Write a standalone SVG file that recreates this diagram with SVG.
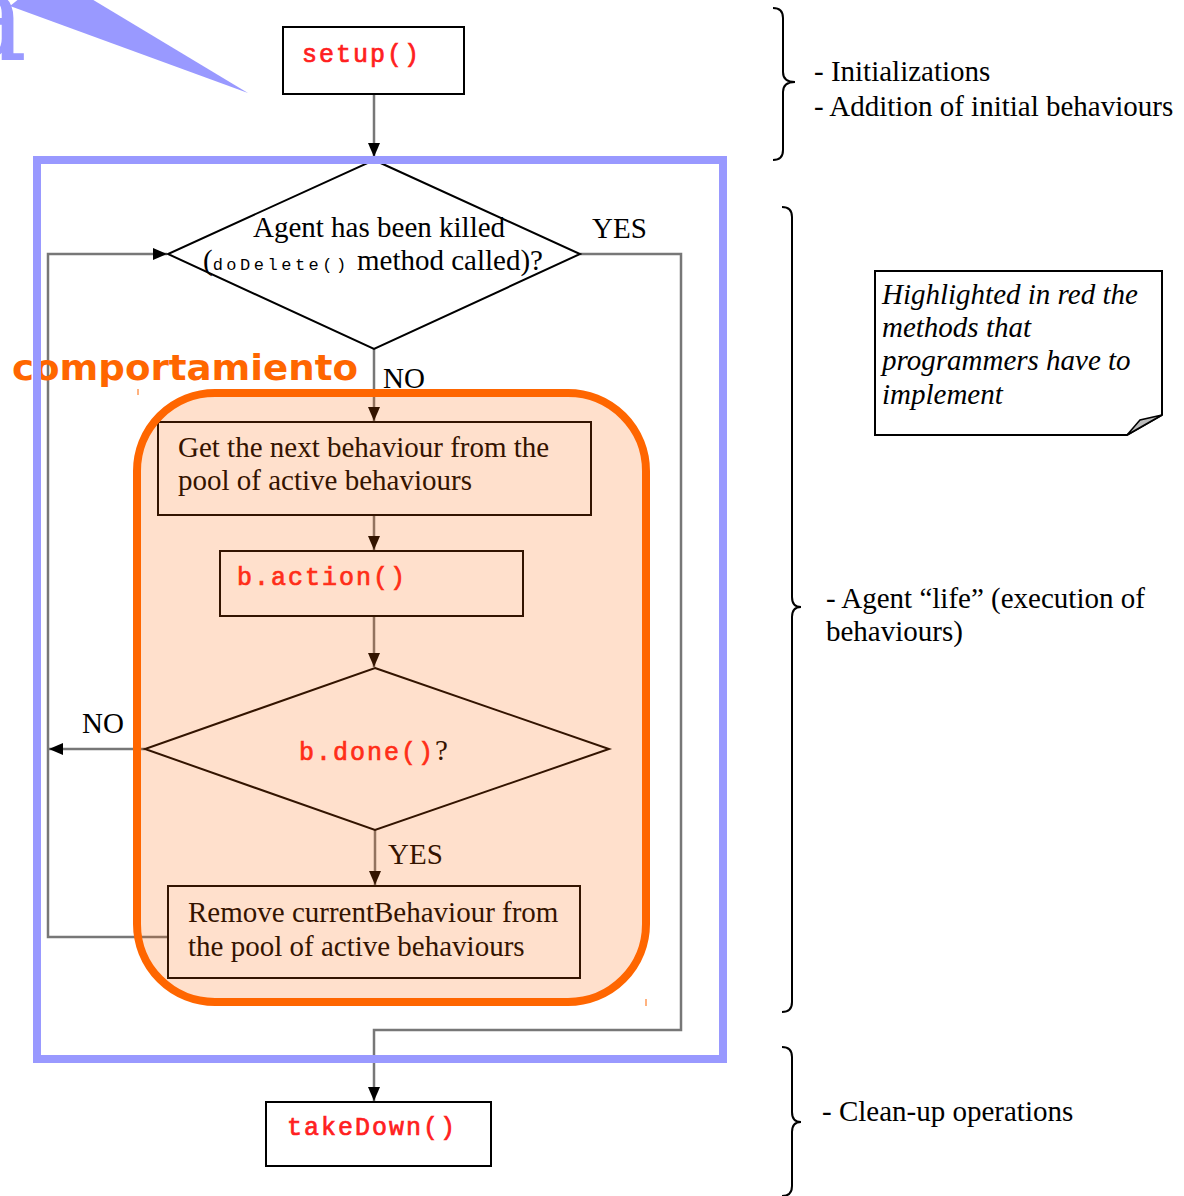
<svg xmlns="http://www.w3.org/2000/svg" width="1184" height="1196" viewBox="0 0 1184 1196">
<defs>
<marker id="arr" markerUnits="userSpaceOnUse" markerWidth="16" markerHeight="14" refX="14" refY="6" orient="auto">
<path d="M0,0 L14,6 L0,12 z" fill="#000"/>
</marker>
<style>
.box{fill:none;stroke:#000;stroke-width:2}
.wbox{fill:#fff;stroke:#000;stroke-width:2}
.ln{fill:none;stroke:#777;stroke-width:2.5}
.serif{font-family:"Liberation Serif","Times New Roman",serif;font-size:29px;fill:#000}
.mono{font-family:"Liberation Mono","Courier New",monospace;font-size:25px;fill:#ff2020;stroke:#ff2020;stroke-width:0.7px;letter-spacing:2px}
.ital{font-family:"Liberation Serif","Times New Roman",serif;font-size:29px;font-style:italic;fill:#000}
.brace{fill:none;stroke:#000;stroke-width:2}
</style>
</defs>
<rect width="1184" height="1196" fill="#fff"/>

<g id="callout">
<text x="-50" y="60" font-family="DejaVu Serif, serif" font-size="130" fill="#9999ff">a</text>
<polygon points="10,6 248,93 90,-2 20,-2" fill="#9999ff"/>
</g>

<g id="connectors">
<path class="ln" d="M374,94 L374,157" marker-end="url(#arr)"/>
<path class="ln" d="M374,349 L374,421" marker-end="url(#arr)"/>
<path class="ln" d="M374,515 L374,550" marker-end="url(#arr)"/>
<path class="ln" d="M374,616 L374,667" marker-end="url(#arr)"/>
<path class="ln" d="M375,830 L375,885" marker-end="url(#arr)"/>
<path class="ln" d="M145,749 L49,749" marker-end="url(#arr)"/>
<path class="ln" d="M168,937 L48,937 L48,254 L167,254" marker-end="url(#arr)"/>
<path class="ln" d="M580,254 L681,254 L681,1030 L374,1030 L374,1101" marker-end="url(#arr)"/>
<text class="serif" x="592" y="238">YES</text>
<text class="serif" x="383" y="388">NO</text>
<text class="serif" x="82" y="733">NO</text>
<text class="serif" x="388" y="864">YES</text>
</g>

<g id="setup">
<rect class="wbox" x="283" y="27" width="181" height="67"/>
<text class="mono" x="302" y="62">setup()</text>
</g>

<g id="killed">
<polygon class="wbox" points="374,160 580,254 374,349 168,254"/>
<text class="serif" x="253" y="237">Agent has been killed</text>
<text class="serif" x="203" y="270">(<tspan font-family="Liberation Mono, monospace" font-size="17" letter-spacing="3.5">doDelete()</tspan> method called)?</text>
</g>

<g id="getnext">
<rect class="box" x="158" y="422" width="433" height="93"/>
<text class="serif" x="178" y="457">Get the next behaviour from the</text>
<text class="serif" x="178" y="490">pool of active behaviours</text>
</g>

<g id="action">
<rect class="box" x="220" y="551" width="303" height="65"/>
<text class="mono" x="237" y="585">b.action()</text>
</g>

<g id="done">
<polygon class="box" points="375,668 609,749 375,830 145,749"/>
<text class="mono" x="299" y="760">b.done()<tspan class="serif" letter-spacing="0" stroke="none" fill="#000">?</tspan></text>
</g>

<g id="remove">
<rect class="box" x="168" y="886" width="412" height="92"/>
<text class="serif" x="188" y="922">Remove currentBehaviour from</text>
<text class="serif" x="188" y="956">the pool of active behaviours</text>
</g>

<g id="takedown">
<rect class="wbox" x="266" y="1102" width="225" height="64"/>
<text class="mono" x="287" y="1135">takeDown()</text>
</g>

<g id="behaviour-region">
<rect x="137" y="393" width="509" height="609" rx="78" ry="78" fill="#ff6600" fill-opacity="0.2" stroke="#ff6600" stroke-width="8"/>
<line x1="138" y1="389" x2="138" y2="395" stroke="#ff6600" stroke-width="1"/>
<line x1="646" y1="999" x2="646" y2="1006" stroke="#ff6600" stroke-width="1"/>
<text x="12" y="380" font-family="DejaVu Sans, sans-serif" font-weight="bold" font-size="36" fill="#ff6600" textLength="346" lengthAdjust="spacingAndGlyphs">comportamiento</text>
</g>

<g id="agent-region">
<rect x="37" y="160" width="686" height="899" fill="none" stroke="#9999ff" stroke-width="8"/>
</g>

<g id="note">
<path d="M875,271 L1162,271 L1162,415 L1127,435 L875,435 Z" fill="#fff" stroke="#000" stroke-width="2"/>
<path d="M1127,435 L1140,420 L1162,415 Z" fill="#bbb" stroke="#000" stroke-width="1.5"/>
<text class="ital" x="882" y="304">Highlighted in red the</text>
<text class="ital" x="882" y="337">methods that</text>
<text class="ital" x="882" y="370">programmers have to</text>
<text class="ital" x="882" y="404">implement</text>
</g>

<g id="brace-init">
<path class="brace" d="M773,8 Q783,8 783,18 L783,72 Q783,82 795,82 Q783,82 783,92 L783,150 Q783,160 773,160"/>
<text class="serif" x="814" y="81">- Initializations</text>
<text class="serif" x="814" y="116">- Addition of initial behaviours</text>
</g>

<g id="brace-life">
<path class="brace" d="M782,207 Q792,207 792,217 L792,597 Q792,607 801,607 Q792,607 792,617 L792,1002 Q792,1012 782,1012"/>
<text class="serif" x="826" y="608">- Agent “life” (execution of</text>
<text class="serif" x="826" y="641">behaviours)</text>
</g>

<g id="brace-cleanup">
<path class="brace" d="M782,1047 Q792,1047 792,1057 L792,1112 Q792,1122 801,1122 Q792,1122 792,1132 L792,1186 Q792,1196 782,1196"/>
<text class="serif" x="822" y="1121">- Clean-up operations</text>
</g>
</svg>
